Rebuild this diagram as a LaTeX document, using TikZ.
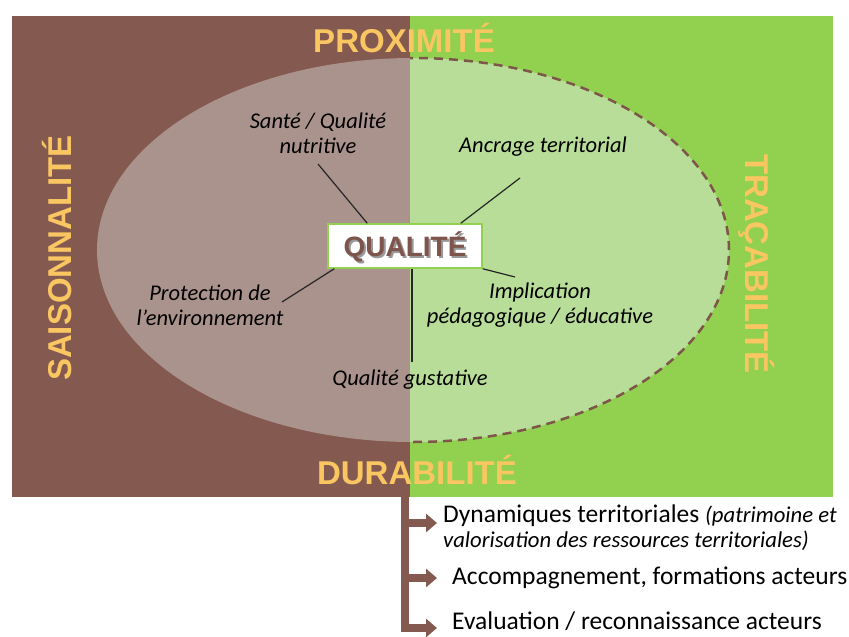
\documentclass[tikz,border=0pt]{standalone}
\usepackage{fontspec}
\setmainfont{Carlito}
\newfontfamily\headfont{Liberation Sans}
\usetikzlibrary{arrows.meta}
\definecolor{brownbg}{HTML}{845A50}
\definecolor{greenbg}{HTML}{92D050}
\definecolor{ellbrown}{HTML}{AA938C}
\definecolor{ellgreen}{HTML}{B8DD98}
\definecolor{orangetxt}{HTML}{F9C662}
\definecolor{dashbrown}{HTML}{7E5649}
\definecolor{qualtxt}{HTML}{7E554C}
\tikzset{
  bigword/.style={text=orangetxt, font=\headfont\bfseries\fontsize{33}{36}\selectfont, inner sep=0pt},
  lbl/.style={font=\itshape\fontsize{22.5}{25}\selectfont, align=center, inner sep=1pt},
  spoke/.style={draw=black!85, line width=1.2pt},
  qbox/.style={draw=greenbg, fill=white, line width=1.5pt, minimum width=154pt, minimum height=44pt, inner sep=0pt},
  bar/.style={draw=brownbg, line width=8pt},
  barrow/.style={draw=brownbg, line width=8pt, -{Triangle[width=18pt,length=11pt]}},
  item/.style={anchor=west, inner sep=0pt, align=left, font=\fontsize{25.5}{28}\selectfont}
}
\begin{document}
\begin{tikzpicture}[x=1pt,y=-1pt]
\useasboundingbox (0,0) rectangle (849,637);
% backgrounds
\fill[brownbg] (12,16) rectangle (410,497);
\fill[greenbg] (410,16) rectangle (833,497);
% ellipse
\begin{scope}
  \clip (413,250) ellipse [x radius=316pt, y radius=192pt];
  \fill[ellbrown] (0,0) rectangle (410,637);
  \fill[ellgreen] (410,0) rectangle (849,637);
\end{scope}
\begin{scope}
  \clip (410,0) rectangle (849,637);
  \draw[dashbrown, line width=2.5pt, dash pattern=on 9pt off 6pt] (413,250) ellipse [x radius=316pt, y radius=192pt];
\end{scope}
% big words
\node[bigword] (prox) at (404,38) {PROXIMITÉ};
\node[bigword] (dura) at (417,470) {DURABILITÉ};
\node[bigword, rotate=90] (sais) at (57,258) {SAISONNALITÉ};
\node[bigword, rotate=-90] (trac) at (757,264) {TRAÇABILITÉ};
% central box
\node[qbox] (qual) at (405,246) {};
\node[text=black!40, font=\headfont\bfseries\fontsize{28}{30}\selectfont, inner sep=0pt] at (407,249) {QUALITÉ};
\node[text=qualtxt, font=\headfont\bfseries\fontsize{28}{30}\selectfont, inner sep=0pt] (qualtext) at (405,247) {QUALITÉ};
% labels
\node[lbl] (sante) at (318,133) {Santé / Qualité\\nutritive};
\node[lbl] (ancr) at (543,147) {Ancrage territorial};
\node[lbl] (prot) at (210,305) {Protection de\\l’environnement};
\node[lbl] (impl) at (540,305) {Implication\\pédagogique / éducative};
\node[lbl] (gust) at (410,380) {Qualité gustative};
% spoke ends
\coordinate (s1) at (318,164);
\coordinate (a1) at (520,178);
\coordinate (p1) at (282,302);
\coordinate (i1) at (515,277);
\coordinate (g1) at (412,362);
\draw[spoke] (s1) -- ([xshift=40pt]qual.north west);
\draw[spoke] (a1) -- ([xshift=-22pt]qual.north east);
\draw[spoke] (p1) -- ([xshift=7pt]qual.south west);
\draw[spoke] (i1) -- (qual.south east);
\draw[spoke] (g1) -- ([xshift=7pt]qual.south);
% bottom list
\coordinate (b0) at (405,497);
\coordinate (b1) at (405,523);
\coordinate (b2) at (405,578);
\coordinate (b3) at (405,628);
\coordinate (t1) at (437,523);
\coordinate (t2) at (437,578);
\coordinate (t3) at (437,628);
\draw[bar] (b0) -- ([yshift=-4pt]b3);
\draw[barrow] ([xshift=-4pt]b1) -- (t1);
\draw[barrow] ([xshift=-4pt]b2) -- (t2);
\draw[barrow] ([xshift=-4pt]b3) -- (t3);
\node[item] (i1t) at (443,516) {Dynamiques territoriales {\itshape\fontsize{22.7}{26}\selectfont(patrimoine et}};
\node[item, font=\itshape\fontsize{22.7}{26}\selectfont] (i1u) at (443,541) {valorisation des ressources territoriales)};
\node[item] (i2t) at (452,578) {Accompagnement, formations acteurs};
\node[item] (i3t) at (452,621) {Evaluation / reconnaissance acteurs};
\end{tikzpicture}
\end{document}
